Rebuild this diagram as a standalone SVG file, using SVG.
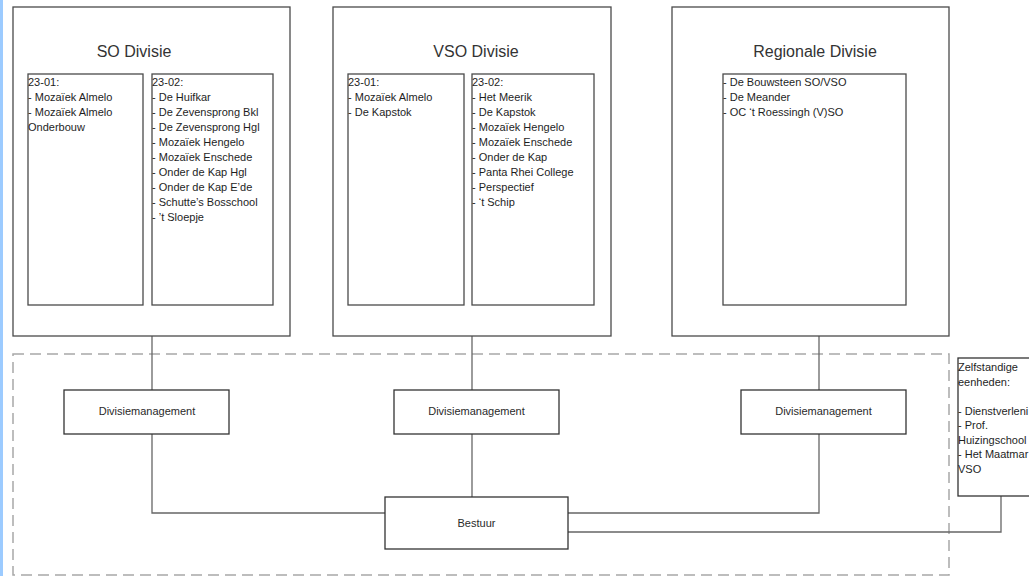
<svg xmlns="http://www.w3.org/2000/svg" width="1029" height="576" viewBox="0 0 1029 576">
<style>
.bg{fill:#ffffff}
.box{fill:#ffffff;stroke:#4a4a4a;stroke-width:1.3}
.dm{fill:#ffffff;stroke:#333333;stroke-width:1.3}
.con{fill:none;stroke:#666666;stroke-width:1.3}
.dash{fill:none;stroke:#a8a8a8;stroke-width:1.5;stroke-dasharray:11 6}
.title{font-family:"Liberation Sans",Arial,sans-serif;font-size:16px;fill:#333333;text-anchor:middle}
.lst{font-family:"Liberation Sans",Arial,sans-serif;font-size:11px;fill:#1e1e1e}
.lbl{font-family:"Liberation Sans",Arial,sans-serif;font-size:11px;fill:#2a2a2a;text-anchor:middle}
</style>
<rect class="bg" x="0" y="0" width="1029" height="576"/>
<rect x="0" y="0" width="3" height="576" fill="#9ccbff"/>

<g id="frame">
<rect class="dash" x="13" y="354" width="936" height="221"/>
</g>

<g id="connectors">
<polyline class="con" points="152,336 152,390"/>
<polyline class="con" points="152,434 152,513 385,513"/>
<polyline class="con" points="472,336 472,390"/>
<polyline class="con" points="472,434 472,497"/>
<polyline class="con" points="819,336 819,390"/>
<polyline class="con" points="819,434 819,513 568,513"/>
<polyline class="con" points="568,532 1001,532 1001,496"/>
</g>

<g id="so-divisie">
<rect class="box" x="13" y="7" width="277" height="329"/>
<text class="title" x="134" y="57">SO Divisie</text>
<rect class="box" x="28" y="74" width="115" height="231"/>
<text class="lst" x="28" y="86">23-01:</text>
<text class="lst" x="28" y="101">- Mozaïek Almelo</text>
<text class="lst" x="28" y="116">- Mozaïek Almelo</text>
<text class="lst" x="28" y="131">Onderbouw</text>
<rect class="box" x="152" y="74" width="121" height="231"/>
<text class="lst" x="152" y="86">23-02:</text>
<text class="lst" x="152" y="101">- De Huifkar</text>
<text class="lst" x="152" y="116">- De Zevensprong Bkl</text>
<text class="lst" x="152" y="131">- De Zevensprong Hgl</text>
<text class="lst" x="152" y="146">- Mozaïek Hengelo</text>
<text class="lst" x="152" y="161">- Mozaïek Enschede</text>
<text class="lst" x="152" y="176">- Onder de Kap Hgl</text>
<text class="lst" x="152" y="191">- Onder de Kap E’de</text>
<text class="lst" x="152" y="206">- Schutte’s Bosschool</text>
<text class="lst" x="152" y="221">- ’t Sloepje</text>
</g>

<g id="vso-divisie">
<rect class="box" x="333" y="7" width="278" height="329"/>
<text class="title" x="476" y="57">VSO Divisie</text>
<rect class="box" x="348" y="74" width="116" height="231"/>
<text class="lst" x="348" y="86">23-01:</text>
<text class="lst" x="348" y="101">- Mozaïek Almelo</text>
<text class="lst" x="348" y="116">- De Kapstok</text>
<rect class="box" x="472" y="74" width="122" height="231"/>
<text class="lst" x="472" y="86">23-02:</text>
<text class="lst" x="472" y="101">- Het Meerik</text>
<text class="lst" x="472" y="116">- De Kapstok</text>
<text class="lst" x="472" y="131">- Mozaïek Hengelo</text>
<text class="lst" x="472" y="146">- Mozaïek Enschede</text>
<text class="lst" x="472" y="161">- Onder de Kap</text>
<text class="lst" x="472" y="176">- Panta Rhei College</text>
<text class="lst" x="472" y="191">- Perspectief</text>
<text class="lst" x="472" y="206">- ‘t Schip</text>
</g>

<g id="regionale-divisie">
<rect class="box" x="672" y="7" width="277" height="329"/>
<text class="title" x="815" y="57">Regionale Divisie</text>
<rect class="box" x="723" y="74" width="183" height="231"/>
<text class="lst" x="723" y="86">- De Bouwsteen SO/VSO</text>
<text class="lst" x="723" y="101">- De Meander</text>
<text class="lst" x="723" y="116">- OC ‘t Roessingh (V)SO</text>
</g>

<g id="dm-so">
<rect class="dm" x="64" y="390" width="165" height="44"/>
<text class="lbl" x="147" y="415">Divisiemanagement</text>
</g>
<g id="dm-vso">
<rect class="dm" x="394" y="390" width="165" height="44"/>
<text class="lbl" x="476.5" y="415">Divisiemanagement</text>
</g>
<g id="dm-regionaal">
<rect class="dm" x="741" y="390" width="165" height="44"/>
<text class="lbl" x="823.5" y="415">Divisiemanagement</text>
</g>

<g id="bestuur">
<rect class="dm" x="385" y="497" width="183" height="52"/>
<text class="lbl" x="476.5" y="527">Bestuur</text>
</g>

<g id="zelfstandige-eenheden">
<rect class="dm" x="958" y="358" width="80" height="138"/>
<text class="lst" x="958" y="371">Zelfstandige</text>
<text class="lst" x="958" y="385.5">eenheden:</text>
<text class="lst" x="958" y="414.5">- Dienstverleni</text>
<text class="lst" x="958" y="429">- Prof.</text>
<text class="lst" x="958" y="443.5">Huizingschool</text>
<text class="lst" x="958" y="458">- Het Maatmar</text>
<text class="lst" x="958" y="472.5">VSO</text>
</g>
</svg>
